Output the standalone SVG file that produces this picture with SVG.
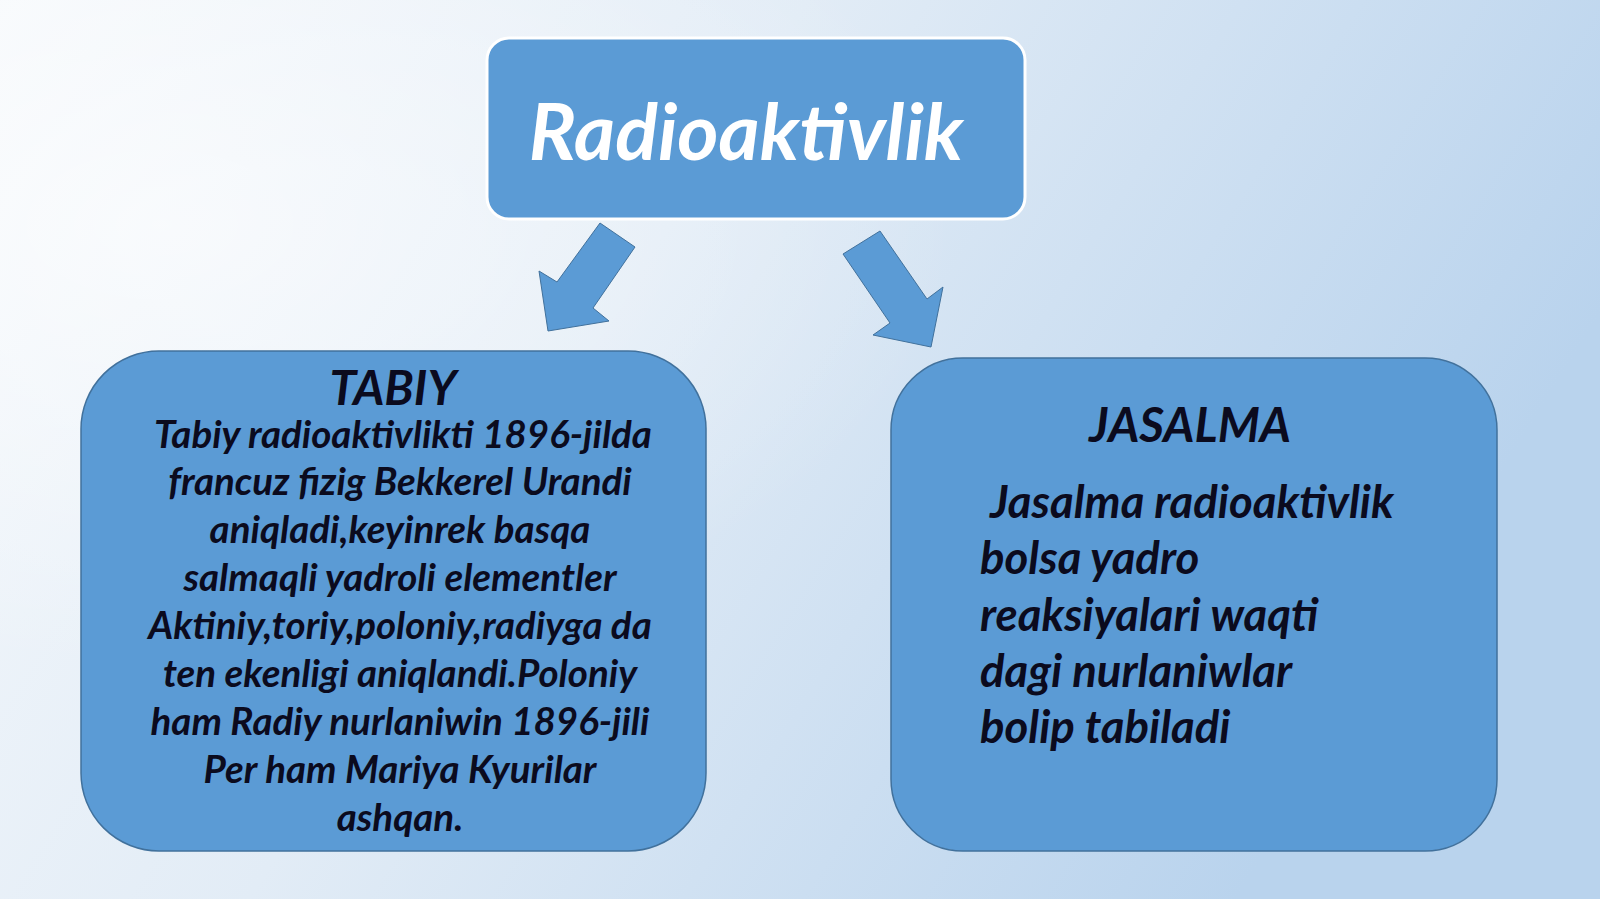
<svg xmlns="http://www.w3.org/2000/svg" width="1600" height="899" viewBox="0 0 1600 899">
  <defs>
    <linearGradient id="bg" x1="0" y1="0" x2="1" y2="0.35">
      <stop offset="0" stop-color="#f6f9fc"/>
      <stop offset="0.45" stop-color="#e2ecf6"/>
      <stop offset="1" stop-color="#b9d3ed"/>
    </linearGradient>
    <radialGradient id="bgl" cx="0.1" cy="0.25" r="0.5">
      <stop offset="0" stop-color="#ffffff" stop-opacity="0.6"/>
      <stop offset="1" stop-color="#ffffff" stop-opacity="0"/>
    </radialGradient>
  </defs>
  <style>
    .box { fill: #5b9bd5; stroke: #41719c; stroke-width: 1.5; }
    .top { fill: #5b9bd5; stroke: #ffffff; stroke-width: 3; }
    .arrow { fill: #5b9bd5; stroke: #41719c; stroke-width: 1; }
    .t { font-family: Lato, "Open Sans", sans-serif; font-weight: bold; font-style: italic; fill: #0b0b1e; }
    .title { font-family: Lato, "Open Sans", sans-serif; font-weight: bold; font-style: italic; fill: #ffffff; font-size: 79px; }
    .head { font-size: 48px; text-anchor: middle; }
    .bodyL { font-size: 38.5px; text-anchor: middle; }
    .bodyR { font-size: 45.5px; }
  </style>
  <rect width="1600" height="899" fill="url(#bg)"/>
  <rect width="1600" height="899" fill="url(#bgl)"/>

  <g id="node-radioaktivlik">
    <rect class="top" x="487" y="38" width="538" height="181" rx="22"/>
    <text class="title" x="746" y="160" text-anchor="middle">Radioaktivlik</text>
  </g>

  <g id="connectors">
    <polygon class="arrow" points="600,223 635,247 593,308 609,321 548,331 539,271 557,282"/>
    <polygon class="arrow" points="843,254 880,231 927,299 943,287 931,347 873,335 890,323"/>
  </g>

  <g id="node-tabiy">
    <rect class="box" x="81" y="351" width="625" height="500" rx="78"/>
    <text class="t head" x="393" y="405">TABIY</text>
    <text class="t bodyL" x="403" y="448">Tabiy radioaktivlikti 1896-jilda</text>
    <text class="t bodyL" x="400" y="495">francuz fizig Bekkerel Urandi</text>
    <text class="t bodyL" x="400" y="543">aniqladi,keyinrek basqa</text>
    <text class="t bodyL" x="400" y="591">salmaqli yadroli elementler</text>
    <text class="t bodyL" x="400" y="639">Aktiniy,toriy,poloniy,radiyga da</text>
    <text class="t bodyL" x="400" y="687">ten ekenligi aniqlandi.Poloniy</text>
    <text class="t bodyL" x="400" y="735">ham Radiy nurlaniwin 1896-jili</text>
    <text class="t bodyL" x="400" y="783">Per ham Mariya Kyurilar</text>
    <text class="t bodyL" x="400" y="831">ashqan.</text>
  </g>

  <g id="node-jasalma">
    <rect class="box" x="891" y="358" width="606" height="493" rx="72"/>
    <text class="t head" x="1190" y="442">JASALMA</text>
    <text class="t bodyR" x="990" y="518">Jasalma radioaktivlik</text>
    <text class="t bodyR" x="980" y="574">bolsa yadro</text>
    <text class="t bodyR" x="980" y="631">reaksiyalari waqti</text>
    <text class="t bodyR" x="980" y="687">dagi nurlaniwlar</text>
    <text class="t bodyR" x="980" y="743">bolip tabiladi</text>
  </g>
</svg>
